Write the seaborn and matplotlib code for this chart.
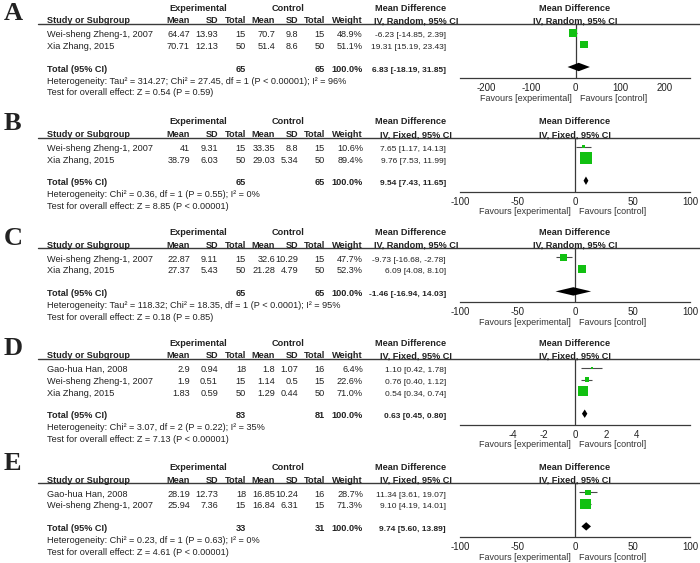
import matplotlib
matplotlib.use("Agg")
import pandas
import seaborn as sea
from matplotlib import pyplot
from matplotlib.lines import Line2D

# ---- data ----
studies_2 = ["Wei-sheng Zheng-1, 2007", "Xia Zhang, 2015"]
studies_3 = ["Gao-hua Han, 2008", "Wei-sheng Zheng-1, 2007", "Xia Zhang, 2015"]
studies_e = ["Gao-hua Han, 2008", "Wei-sheng Zheng-1, 2007"]

a_exp_mean = [64.47, 70.71]
a_exp_sd = [13.93, 12.13]
a_exp_n = [15, 50]
a_ctl_mean = [70.7, 51.4]
a_ctl_sd = [9.8, 8.6]
a_ctl_n = [15, 50]
a_weight = [48.9, 51.1]
a_md = [-6.23, 19.31]
a_lo = [-14.85, 15.19]
a_hi = [2.39, 23.43]
a_total = (6.83, -18.19, 31.85)

b_exp_mean = [41, 38.79]
b_exp_sd = [9.31, 6.03]
b_exp_n = [15, 50]
b_ctl_mean = [33.35, 29.03]
b_ctl_sd = [8.8, 5.34]
b_ctl_n = [15, 50]
b_weight = [10.6, 89.4]
b_md = [7.65, 9.76]
b_lo = [1.17, 7.53]
b_hi = [14.13, 11.99]
b_total = (9.54, 7.43, 11.65)

c_exp_mean = [22.87, 27.37]
c_exp_sd = [9.11, 5.43]
c_exp_n = [15, 50]
c_ctl_mean = [32.6, 21.28]
c_ctl_sd = [10.29, 4.79]
c_ctl_n = [15, 50]
c_weight = [47.7, 52.3]
c_md = [-9.73, 6.09]
c_lo = [-16.68, 4.08]
c_hi = [-2.78, 8.10]
c_total = (-1.46, -16.94, 14.03)

d_exp_mean = [2.9, 1.9, 1.83]
d_exp_sd = [0.94, 0.51, 0.59]
d_exp_n = [18, 15, 50]
d_ctl_mean = [1.8, 1.14, 1.29]
d_ctl_sd = [1.07, 0.5, 0.44]
d_ctl_n = [16, 15, 50]
d_weight = [6.4, 22.6, 71.0]
d_md = [1.10, 0.76, 0.54]
d_lo = [0.42, 0.40, 0.34]
d_hi = [1.78, 1.12, 0.74]
d_total = (0.63, 0.45, 0.80)

e_exp_mean = [28.19, 25.94]
e_exp_sd = [12.73, 7.36]
e_exp_n = [18, 15]
e_ctl_mean = [16.85, 16.84]
e_ctl_sd = [10.24, 6.31]
e_ctl_n = [16, 15]
e_weight = [28.7, 71.3]
e_md = [11.34, 9.10]
e_lo = [3.61, 4.19]
e_hi = [19.07, 14.01]
e_total = (9.74, 5.60, 13.89)

methods = ["IV, Random, 95% CI", "IV, Fixed, 95% CI", "IV, Random, 95% CI",
           "IV, Fixed, 95% CI", "IV, Fixed, 95% CI"]
heterogeneity = [
    "Heterogeneity: Tau\u00b2 = 314.27; Chi\u00b2 = 27.45, df = 1 (P < 0.00001); I\u00b2 = 96%",
    "Heterogeneity: Chi\u00b2 = 0.36, df = 1 (P = 0.55); I\u00b2 = 0%",
    "Heterogeneity: Tau\u00b2 = 118.32; Chi\u00b2 = 18.35, df = 1 (P < 0.0001); I\u00b2 = 95%",
    "Heterogeneity: Chi\u00b2 = 3.07, df = 2 (P = 0.22); I\u00b2 = 35%",
    "Heterogeneity: Chi\u00b2 = 0.23, df = 1 (P = 0.63); I\u00b2 = 0%",
]
overall = [
    "Test for overall effect: Z = 0.54 (P = 0.59)",
    "Test for overall effect: Z = 8.85 (P < 0.00001)",
    "Test for overall effect: Z = 0.18 (P = 0.85)",
    "Test for overall effect: Z = 7.13 (P < 0.00001)",
    "Test for overall effect: Z = 4.61 (P < 0.00001)",
]
tick_values = [[-200, -100, 0, 100, 200], [-100, -50, 0, 50, 100],
               [-100, -50, 0, 50, 100], [-4, -2, 0, 2, 4], [-100, -50, 0, 50, 100]]
x_ranges = [(-259, 256), (-100, 100), (-100, 100), (-7.45, 7.45), (-100, 100)]
letters = ["A", "B", "C", "D", "E"]

# ---- layout (pixels of the 700x563 picture) ----
WIDTH, HEIGHT = 700, 563
panel_tops = [7.3, 121, 231.7, 342.3, 466.7]
letter_bases = [20, 130, 245, 355, 470]
ROW_STEP = 11.7
TEXT_SIZE = 6.6
CI_SIZE = 6.0
INK = "#222222"
LINE = "#3a3a3a"
GREEN = "#11c011"
columns = [190, 218, 246, 275, 298, 325, 363]


def put(fig, x, y, text, ha="left", bold=False, size=TEXT_SIZE, **kw):
    fig.text(x / WIDTH, 1 - y / HEIGHT, text, ha=ha, va="baseline",
             fontsize=size, fontweight="bold" if bold else "normal",
             color=INK, **kw)


def fmt(v):
    return f"{v:g}"


def draw_panel(fig, k, studies, exp_mean, exp_sd, exp_n, ctl_mean, ctl_sd,
               ctl_n, weight, md, lo, hi, total):
    top = panel_tops[k]
    line_y = top + 16.7
    rows = [top + 25.5 + i * ROW_STEP for i in range(len(studies))]
    total_y = rows[-1] + 22.5
    axis_y = total_y + 11

    put(fig, 4, letter_bases[k], letters[k], size=19, bold=True,
        family="Liberation Serif")

    # table headers
    put(fig, 198, top + 3.5, "Experimental", "center", True)
    put(fig, 288, top + 3.5, "Control", "center", True)
    put(fig, 411, top + 3.5, "Mean Difference", "center", True)
    put(fig, 575, top + 3.5, "Mean Difference", "center", True)
    hdr_y = line_y - 0.6
    put(fig, 47, hdr_y, "Study or Subgroup", bold=True)
    for label, x in zip(["Mean", "SD", "Total", "Mean", "SD", "Total", "Weight"],
                        columns):
        put(fig, x, hdr_y, label, "right", True)
    put(fig, 416, hdr_y, methods[k], "center", True)
    put(fig, 575, hdr_y, methods[k], "center", True)
    fig.add_artist(Line2D([38 / WIDTH, 1], [1 - line_y / HEIGHT] * 2,
                          color=LINE, lw=1.0))

    # study rows
    for i, name in enumerate(studies):
        y = rows[i] + 4.5
        put(fig, 47, y, name)
        values = [fmt(exp_mean[i]), fmt(exp_sd[i]), str(exp_n[i]),
                  fmt(ctl_mean[i]), fmt(ctl_sd[i]), str(ctl_n[i]),
                  f"{weight[i]:.1f}%"]
        for v, x in zip(values, columns):
            put(fig, x, y, v, "right")
        put(fig, 446, y, f"{md[i]:.2f} [{lo[i]:.2f}, {hi[i]:.2f}]", "right",
            size=CI_SIZE)

    # total rows
    y = total_y + 4.5
    put(fig, 47, y, "Total (95% CI)", bold=True)
    put(fig, columns[2], y, str(sum(exp_n)), "right", True)
    put(fig, columns[5], y, str(sum(ctl_n)), "right", True)
    put(fig, columns[6], y, f"{sum(weight):.1f}%", "right", True)
    put(fig, 446, y, f"{total[0]:.2f} [{total[1]:.2f}, {total[2]:.2f}]",
        "right", True, size=CI_SIZE)
    put(fig, 47, total_y + 12 + 4.5, heterogeneity[k])
    put(fig, 47, total_y + 23.7 + 4.5, overall[k])

    # forest plot
    ax = fig.add_axes([460 / WIDTH, 1 - axis_y / HEIGHT, 230 / WIDTH,
                       (axis_y - line_y) / HEIGHT])
    ax.patch.set_alpha(0)
    ax.axvline(0, color=LINE, lw=0.9, zorder=1)
    ax.hlines(rows, lo, hi, color="#4a4a4a", lw=0.8, zorder=2)
    frame = pandas.DataFrame({"md": md, "row": rows, "weight": weight})
    # square side grows with the study weight
    areas = {w: ((1.74 + 0.118 * w) * 0.72) ** 2 for w in weight}
    sea.scatterplot(data=frame, x="md", y="row", size="weight", sizes=areas,
                    marker="s", color=GREEN, linewidth=0, legend=False,
                    ax=ax, zorder=3)
    est, low, high = total
    ax.fill([low, est, high, est],
            [total_y, total_y - 4.2, total_y, total_y + 4.2],
            color="black", lw=0, zorder=3)
    ax.set_xlim(x_ranges[k])
    ax.set_ylim(axis_y, line_y)
    sea.despine(ax=ax, left=True)
    ax.spines["bottom"].set_color(LINE)
    ax.spines["bottom"].set_linewidth(0.9)
    ax.set_yticks([])
    ax.set_xticks(tick_values[k])
    ax.set_xticklabels([str(t) for t in tick_values[k]])
    ax.tick_params(axis="x", direction="inout", length=5, width=0.8,
                   colors=LINE, labelcolor=INK, labelsize=7, pad=1.0)
    ax.set_xlabel("")
    ax.set_ylabel("")
    for text, dx, ha in [("Favours [experimental]", -3, "right"),
                         ("Favours [control]", 3, "left")]:
        ax.annotate(text, xy=(0, 0), xycoords=("data", "axes fraction"),
                    xytext=(dx, -14.6), textcoords="offset points", ha=ha,
                    va="center", fontsize=6.5, color="#333333")


def main():
    sea.set_style("white")
    pyplot.rcParams["font.family"] = ["Liberation Sans", "DejaVu Sans"]
    figure = pyplot.figure(figsize=(7.0, 5.63), dpi=100)
    figure.patch.set_facecolor("white")

    draw_panel(figure, 0, studies_2, a_exp_mean, a_exp_sd, a_exp_n, a_ctl_mean,
               a_ctl_sd, a_ctl_n, a_weight, a_md, a_lo, a_hi, a_total)
    draw_panel(figure, 1, studies_2, b_exp_mean, b_exp_sd, b_exp_n, b_ctl_mean,
               b_ctl_sd, b_ctl_n, b_weight, b_md, b_lo, b_hi, b_total)
    draw_panel(figure, 2, studies_2, c_exp_mean, c_exp_sd, c_exp_n, c_ctl_mean,
               c_ctl_sd, c_ctl_n, c_weight, c_md, c_lo, c_hi, c_total)
    draw_panel(figure, 3, studies_3, d_exp_mean, d_exp_sd, d_exp_n, d_ctl_mean,
               d_ctl_sd, d_ctl_n, d_weight, d_md, d_lo, d_hi, d_total)
    draw_panel(figure, 4, studies_e, e_exp_mean, e_exp_sd, e_exp_n, e_ctl_mean,
               e_ctl_sd, e_ctl_n, e_weight, e_md, e_lo, e_hi, e_total)

    figure.savefig("out.png", dpi=100)


if __name__ == "__main__":
    main()
